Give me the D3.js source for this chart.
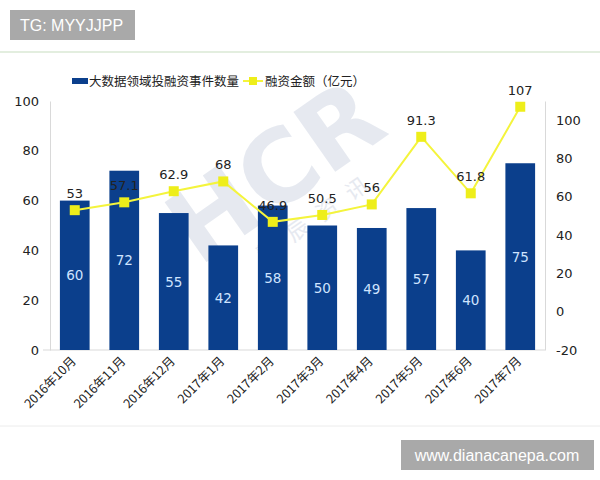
<!DOCTYPE html>
<html>
<head>
<meta charset="utf-8">
<script src="https://cdn.jsdelivr.net/npm/d3@7"></script>
<style>
  body { margin: 0; background: #fff; }
  svg { display: block; font-family: "Noto Sans CJK SC", "DejaVu Sans", sans-serif; }
</style>
</head>
<body>
<div id="chart"></div>
<script>
const width = 600;
const height = 480;

// data
var months = ["2016年10月", "2016年11月", "2016年12月", "2017年1月", "2017年2月",
  "2017年3月", "2017年4月", "2017年5月", "2017年6月", "2017年7月"];
var eventCounts = [60, 72, 55, 42, 58, 50, 49, 57, 40, 75];
var fundAmounts = [53, 57.1, 62.9, 68, 46.9, 50.5, 56, 91.3, 61.8, 107];
var leftTicks = [0, 20, 40, 60, 80, 100];
var rightTicks = [-20, 0, 20, 40, 60, 80, 100];
var legendNames = ["大数据领域投融资事件数量", "融资金额（亿元）"];

const barColor = "#0b3f8c";
const lineColor = "#f4f43c";
const markColor = "#eeee1a";

var svg = d3.select("#chart").append("svg")
  .attr("width", width)
  .attr("height", height);

// top tag and separators
svg.append("rect").attr("x", 10).attr("y", 10).attr("width", 125).attr("height", 30).attr("fill", "#a9a9a9");
svg.append("text").attr("x", 20).attr("y", 31).attr("fill", "#fff").attr("font-size", 16)
  .attr("font-family", "Liberation Sans, Arial, sans-serif").text("TG: MYYJJPP");
svg.append("line").attr("x1", 0).attr("x2", width).attr("y1", 52).attr("y2", 52)
  .attr("stroke", "#e3eedf").attr("stroke-width", 2);
svg.append("line").attr("x1", 0).attr("x2", width).attr("y1", 426).attr("y2", 426)
  .attr("stroke", "#ececec").attr("stroke-width", 1);

// watermark
var wm = svg.append("g").attr("transform", "translate(295,200) rotate(-35)");
wm.append("text").attr("text-anchor", "middle").attr("font-size", 100).attr("font-weight", "bold")
  .attr("font-family", "DejaVu Sans, sans-serif")
  .attr("fill", "#e2e6ee").attr("opacity", 0.85).text("HCR");
wm.append("text").attr("x", 10).attr("y", 34).attr("text-anchor", "middle").attr("font-size", 22)
  .attr("fill", "#e2e6ee").attr("letter-spacing", 14).attr("opacity", 0.85).text("慧辰资讯");

// scales
var xScale = d3.scaleBand().domain(months).range([50, 545]).paddingInner(0.4).paddingOuter(0.2);
var yLeft = d3.scaleLinear().domain([0, 100]).range([350, 101]);
var yRight = d3.scaleLinear().domain([-20, 110]).range([350, 101]);

// axes
var xAxis = d3.axisBottom(xScale).tickSize(0).tickFormat("");
svg.append("g").attr("transform", "translate(0,350)").call(xAxis)
  .call(g => g.select(".domain").attr("stroke", "#d9d9d9").attr("d", "M43,0H545"));

svg.selectAll(".xlab").data(months).enter().append("text")
  .attr("class", "xlab")
  .attr("transform", d => "translate(" + (xScale(d) + xScale.bandwidth() / 2 + 2) + ",362) rotate(-45)")
  .attr("text-anchor", "end")
  .attr("font-size", 12.5)
  .attr("fill", "#222")
  .text(d => d);

var yAxisL = d3.axisLeft(yLeft).tickValues(leftTicks).tickSize(0).tickPadding(11)
  .tickFormat(d => String(d));
svg.append("g").attr("transform", "translate(50,0)").call(yAxisL)
  .call(g => g.select(".domain").attr("stroke", "#d9d9d9"))
  .call(g => g.selectAll("text").attr("font-size", 13).attr("fill", "#222")
    .attr("font-family", "DejaVu Sans, sans-serif"));

var yAxisR = d3.axisRight(yRight).tickValues(rightTicks).tickSize(0).tickPadding(11)
  .tickFormat(d => String(d));
svg.append("g").attr("transform", "translate(545,0)").call(yAxisR)
  .call(g => g.select(".domain").attr("stroke", "#d9d9d9"))
  .call(g => g.selectAll("text").attr("font-size", 13).attr("fill", "#222")
    .attr("font-family", "DejaVu Sans, sans-serif"));

// bars
svg.selectAll(".bar").data(eventCounts).enter().append("rect")
  .attr("class", "bar")
  .attr("x", (d, i) => xScale(months[i]))
  .attr("y", d => yLeft(d))
  .attr("width", xScale.bandwidth())
  .attr("height", d => yLeft(0) - yLeft(d))
  .attr("fill", barColor);

svg.selectAll(".barlab").data(eventCounts).enter().append("text")
  .attr("class", "barlab")
  .attr("x", (d, i) => xScale(months[i]) + xScale.bandwidth() / 2)
  .attr("y", d => (yLeft(d) + yLeft(0)) / 2 + 5)
  .attr("text-anchor", "middle")
  .attr("font-size", 13.5)
  .attr("font-family", "DejaVu Sans, sans-serif")
  .attr("fill", "#cfe4ff")
  .text(d => d);

// line
var cx = (d, i) => xScale(months[i]) + xScale.bandwidth() / 2;
var line = d3.line().x(cx).y(d => yRight(d));
svg.append("path").datum(fundAmounts)
  .attr("d", line)
  .attr("fill", "none")
  .attr("stroke", lineColor)
  .attr("stroke-width", 2);

svg.selectAll(".mark").data(fundAmounts).enter().append("rect")
  .attr("class", "mark")
  .attr("x", (d, i) => cx(d, i) - 5)
  .attr("y", d => yRight(d) - 5)
  .attr("width", 10)
  .attr("height", 10)
  .attr("fill", markColor);

svg.selectAll(".linelab").data(fundAmounts).enter().append("text")
  .attr("class", "linelab")
  .attr("x", cx)
  .attr("y", d => yRight(d) - 12)
  .attr("text-anchor", "middle")
  .attr("font-size", 13)
  .attr("font-family", "DejaVu Sans, sans-serif")
  .attr("fill", "#222")
  .text(d => d);

// legend
var legend = svg.append("g");
legend.append("rect").attr("x", 72).attr("y", 78).attr("width", 16).attr("height", 6).attr("fill", barColor);
legend.append("text").attr("x", 89).attr("y", 86).attr("font-size", 12.5).attr("fill", "#222").text(legendNames[0]);
legend.append("line").attr("x1", 243).attr("x2", 263).attr("y1", 81).attr("y2", 81)
  .attr("stroke", lineColor).attr("stroke-width", 2);
legend.append("rect").attr("x", 249).attr("y", 77).attr("width", 8).attr("height", 8).attr("fill", markColor);
legend.append("text").attr("x", 265).attr("y", 86).attr("font-size", 12.5).attr("fill", "#222").text(legendNames[1]);

// bottom tag
svg.append("rect").attr("x", 401).attr("y", 440).attr("width", 193).attr("height", 30).attr("fill", "#a9a9a9");
svg.append("text").attr("x", 497).attr("y", 461).attr("text-anchor", "middle").attr("fill", "#fff")
  .attr("font-size", 16).attr("font-family", "Liberation Sans, Arial, sans-serif").text("www.dianacanepa.com");
</script>
</body>
</html>
